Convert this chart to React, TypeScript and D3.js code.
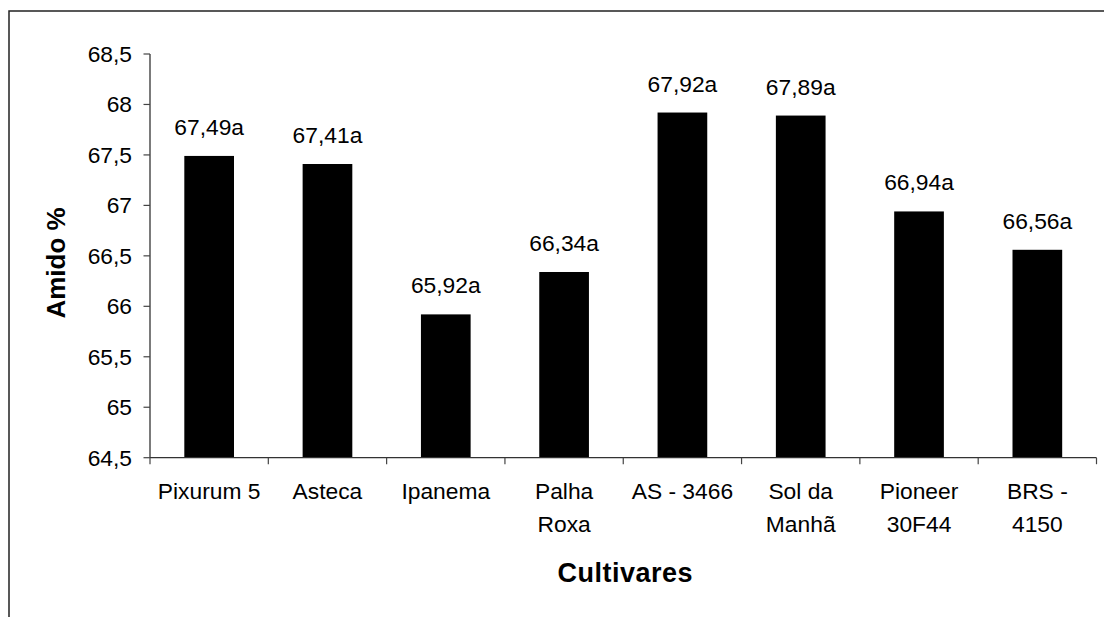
import React from 'react';
import * as d3 from 'd3';

const cultivares = ['Pixurum 5', 'Asteca', 'Ipanema', 'Palha Roxa', 'AS - 3466', 'Sol da Manhã', 'Pioneer 30F44', 'BRS - 4150'];
const labelLines = [['Pixurum 5'], ['Asteca'], ['Ipanema'], ['Palha', 'Roxa'], ['AS - 3466'], ['Sol da', 'Manhã'], ['Pioneer', '30F44'], ['BRS -', '4150']];
const amido = [67.49, 67.41, 65.92, 66.34, 67.92, 67.89, 66.94, 66.56];
const letras = ['a', 'a', 'a', 'a', 'a', 'a', 'a', 'a'];
const yTicks = [64.5, 65, 65.5, 66, 66.5, 67, 67.5, 68, 68.5];

const W = 1104;
const H = 617;
const margin = { top: 54, right: 7.5, bottom: 159.3, left: 150 };
const font = 'Arial, "Liberation Sans", sans-serif';

const fmt = (v: number) => String(v).replace('.', ',');

const App = () => {
  const x = d3
    .scaleBand()
    .domain(cultivares)
    .range([margin.left, W - margin.right])
    .padding(0);

  const y = d3
    .scaleLinear()
    .domain([64.5, 68.5])
    .range([H - margin.bottom, margin.top]);

  const bw = x.bandwidth() * 0.42;
  const base = y(64.5);
  // category boundaries for x ticks
  const bounds = cultivares.map((c) => x(c)!).concat([x.range()[1]]);

  return (
    <svg width={W} height={H} style={{ position: 'absolute', left: 0, top: 0, background: '#fff' }} fontFamily={font}>
      {/* frame (cropped) */}
      <path d={`M9,${H} V11 H${W}`} fill="none" stroke="#222" strokeWidth={1.5} />

      {/* bars */}
      {amido.map((v, i) => {
        const cx = x(cultivares[i])! + x.bandwidth() / 2;
        return (
          <g key={cultivares[i]}>
            <rect x={cx - bw / 2} y={y(v)} width={bw} height={base - y(v)} fill="#000" />
            <text x={cx} y={y(v) - 21} textAnchor="middle" fontSize={22.8} fill="#000">
              {fmt(v) + letras[i]}
            </text>
          </g>
        );
      })}

      {/* y axis */}
      <line x1={margin.left} x2={margin.left} y1={y(68.5)} y2={base} stroke="#222" strokeWidth={1.2} />
      {yTicks.map((t) => (
        <g key={t}>
          <line x1={margin.left - 6.5} x2={margin.left} y1={y(t)} y2={y(t)} stroke="#444" strokeWidth={1.2} />
          <text x={margin.left - 18} y={y(t) + 8} textAnchor="end" fontSize={22.8} fill="#000">
            {fmt(t)}
          </text>
        </g>
      ))}

      {/* x axis */}
      <line x1={margin.left} x2={x.range()[1]} y1={base} y2={base} stroke="#333" strokeWidth={1.2} />
      {bounds.map((b, i) => (
        <line key={i} x1={b} x2={b} y1={base} y2={base + 6.5} stroke="#444" strokeWidth={1.2} />
      ))}
      {labelLines.map((lines, i) => {
        const cx = x(cultivares[i])! + x.bandwidth() / 2;
        return (
          <text key={i} x={cx} textAnchor="middle" fontSize={22.8} fill="#000">
            {lines.map((l, j) => (
              <tspan key={j} x={cx} y={499 + j * 33}>
                {l}
              </tspan>
            ))}
          </text>
        );
      })}

      {/* titles */}
      <text x={(margin.left + x.range()[1]) / 2 + 2} y={581.5} textAnchor="middle" fontSize={27} fontWeight="bold" letterSpacing={0.5} fill="#000">
        Cultivares
      </text>
      <text transform={`translate(65,263) rotate(-90)`} textAnchor="middle" fontSize={26} fontWeight="bold" fill="#000">
        Amido %
      </text>
    </svg>
  );
};

export default App;
